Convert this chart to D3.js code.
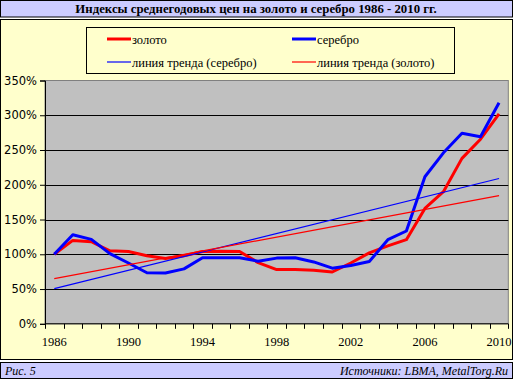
<!DOCTYPE html>
<html><head><meta charset="utf-8">
<script src="https://cdn.jsdelivr.net/npm/d3@7"></script>
<style>body{margin:0;background:#fff}svg{display:block}</style>
</head><body>
<script>
const years = d3.range(1986, 2011);
const gold = [100,120,118,105,104,98,94,98,104,104.5,104,88,78,78,77,74.5,87.5,102,112,121,166,190,238,265.5,302];
const silver = [100,128,121.5,101,87.5,73.5,73,79,95,95,95,90,94.5,95,89,80,84,89.5,121,133.5,211.5,246,274,269,318];
const trendSilverEnds = [50.5, 209];
const trendGold = [65, 184.5];
const yTicks = [0,50,100,150,200,250,300,350];
const xTickLabels = [1986,1990,1994,1998,2002,2006,2010];
const titleText = "Индексы среднегодовых цен на золото и серебро 1986 - 2010 гг.";
const legendItems = [
  {label:"золото", color:"#ff0000", w:3, col:0, row:0},
  {label:"серебро", color:"#0000ff", w:3, col:1, row:0},
  {label:"линия тренда (серебро)", color:"#0000ff", w:1.2, col:0, row:1},
  {label:"линия тренда (золото)", color:"#ff0000", w:1.2, col:1, row:1}
];

const W = 513, H = 379;
const svg = d3.select("body").append("svg").attr("width", W).attr("height", H);
svg.append("rect").attr("width",W).attr("height",H).attr("fill","#fff");

// title bar
svg.append("rect").attr("x",0.5).attr("y",0.5).attr("width",512).attr("height",16.5)
  .attr("fill","#ccccff").attr("stroke","#000");
svg.append("text").attr("x",256).attr("y",13).attr("text-anchor","middle")
  .attr("font-family","Liberation Serif, Times New Roman, serif").attr("font-weight","bold")
  .attr("font-size",12.8).text(titleText);

// chart area
svg.append("rect").attr("x",0.5).attr("y",19.5).attr("width",512).attr("height",340)
  .attr("fill","#ffffcc").attr("stroke","#000");

// footer
svg.append("rect").attr("x",0.5).attr("y",362.5).attr("width",512).attr("height",16)
  .attr("fill","#ccccff").attr("stroke","#000");
svg.append("text").attr("x",5).attr("y",375).attr("font-family","Liberation Serif, serif")
  .attr("font-style","italic").attr("font-size",12).text("Рис. 5");
svg.append("text").attr("x",508).attr("y",375).attr("text-anchor","end").attr("font-family","Liberation Serif, serif")
  .attr("font-style","italic").attr("font-size",12).text("Источники: LBMA, MetalTorg.Ru");

// plot
const L = 45, R = 508.3, T = 80.5, B = 323.8;
const x = d3.scaleBand().domain(years).range([L, R]);
const xc = d => x(d) + x.bandwidth()/2;
const y = d3.scaleLinear().domain([0,350]).range([B, T]);

svg.append("rect").attr("x",L).attr("y",T).attr("width",R-L).attr("height",B-T)
  .attr("fill","#c0c0c0").attr("stroke","#808080").attr("stroke-width",1);

// gridlines
svg.append("g").selectAll("line").data(yTicks.filter(v=>v>0 && v<350)).join("line")
  .attr("x1",L).attr("x2",R).attr("y1",d=>Math.round(y(d))+0.5).attr("y2",d=>Math.round(y(d))+0.5)
  .attr("stroke","#000").attr("stroke-width",1);

// y axis
const yAxis = d3.axisLeft(y).tickValues(yTicks).tickFormat(d=>d+"%").tickSizeOuter(0).tickSize(5).tickPadding(3);
const gy = svg.append("g").attr("transform",`translate(${L},0)`).call(yAxis);
gy.selectAll("text").attr("font-family","DejaVu Sans, Tahoma, sans-serif").attr("font-size",11.5).attr("fill","#000");
gy.selectAll("line,path").attr("stroke","#000");

// x axis
const xTickPos = d3.range(0,26).map(i => L + i*x.step());
const gx = svg.append("g");
gx.append("line").attr("x1",L).attr("x2",R).attr("y1",B).attr("y2",B).attr("stroke","#000");
gx.selectAll("line.t").data(xTickPos).join("line").attr("class","t")
  .attr("x1",d=>Math.round(d)+0.5).attr("x2",d=>Math.round(d)+0.5).attr("y1",B).attr("y2",B+5).attr("stroke","#000");
gx.selectAll("text").data(xTickLabels).join("text")
  .attr("x",d=>xc(d)).attr("y",346).attr("text-anchor","middle")
  .attr("font-family","Liberation Serif, Times New Roman, serif").attr("font-size",12.5).text(d=>d);

// lines
const line = d3.line().x((d,i)=>xc(years[i])).y(d=>y(d));
svg.append("path").datum(gold).attr("d",line).attr("fill","none").attr("stroke","#ff0000").attr("stroke-width",3).attr("stroke-linejoin","round");
svg.append("path").datum(silver).attr("d",line).attr("fill","none").attr("stroke","#0000ff").attr("stroke-width",3).attr("stroke-linejoin","round");
const tline = d3.line().x((d,i)=>xc(i===0?years[0]:years[years.length-1])).y(d=>y(d));
svg.append("path").datum(trendSilverEnds).attr("d",tline).attr("fill","none").attr("stroke","#0000ff").attr("stroke-width",1.2);
svg.append("path").datum(trendGold).attr("d",tline).attr("fill","none").attr("stroke","#ff0000").attr("stroke-width",1.2);

// legend
svg.append("rect").attr("x",86.5).attr("y",27.5).attr("width",368).attr("height",46)
  .attr("fill","#ffffcc").attr("stroke","#000");
const lg = svg.append("g").selectAll("g").data(legendItems).join("g")
  .attr("transform",d=>`translate(${d.col?292:107},${d.row?62:39})`);
lg.append("line").attr("x1",0).attr("x2",24).attr("y1",0).attr("y2",0)
  .attr("stroke",d=>d.color).attr("stroke-width",d=>d.w);
lg.append("text").attr("x",25).attr("y",4.5).attr("font-family","Liberation Serif, Times New Roman, serif")
  .attr("font-size",12.5).text(d=>d.label);
</script>
</body></html>
